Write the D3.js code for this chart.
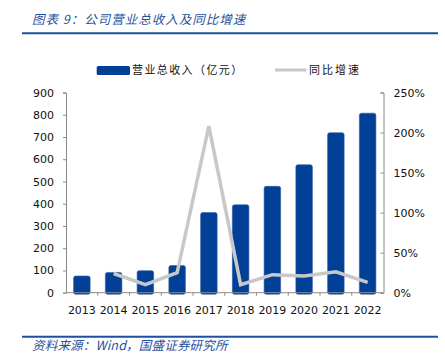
<!DOCTYPE html>
<html>
<head>
<meta charset="utf-8">
<script src="https://cdn.jsdelivr.net/npm/d3@7"></script>
<style>
  body { margin: 0; background: #fff; }
  svg { display: block; }
</style>
</head>
<body>
<div id="chart"></div>
<script>
var width = 445,
    height = 353

// data
var years = ['2013', '2014', '2015', '2016', '2017', '2018', '2019', '2020', '2021', '2022']
var revenue = [75, 91, 99, 122, 360, 395, 478, 575, 719, 807]   // 亿元
var growth = [null, 24, 10, 25, 208, 10, 22.5, 21, 26, 13]    // %
var leftTicks = [0, 100, 200, 300, 400, 500, 600, 700, 800, 900]
var rightTicks = [0, 50, 100, 150, 200, 250]

var blue = '#023f97',
    grey = '#c8c8c8',
    titleBlue = '#1f4f9d'

var cjk = '"Noto Sans CJK SC", sans-serif'
var num = '"DejaVu Sans", sans-serif'

var x0 = 66, x1 = 383.5, yTop = 92.5, yBase = 292.7

var svg = d3.select('#chart').append('svg')
    .attr('width', width)
    .attr('height', height)

// title + rule
svg.append('text')
    .attr('x', 32).attr('y', 24)
    .attr('font-family', cjk).attr('font-size', 12.5)
    .attr('font-style', 'italic').attr('letter-spacing', 1)
    .attr('fill', titleBlue)
    .text('图表 9：公司营业总收入及同比增速')
svg.append('line')
    .attr('x1', 22).attr('x2', 438).attr('y1', 33.3).attr('y2', 33.3)
    .attr('stroke', titleBlue).attr('stroke-width', 2)

// footer
svg.append('line')
    .attr('x1', 22).attr('x2', 438).attr('y1', 336.7).attr('y2', 336.7)
    .attr('stroke', titleBlue).attr('stroke-width', 2)
svg.append('text')
    .attr('x', 32).attr('y', 350)
    .attr('font-family', cjk).attr('font-size', 12.5)
    .attr('font-style', 'italic').attr('letter-spacing', 0.2)
    .attr('fill', titleBlue)
    .text('资料来源：Wind，国盛证券研究所')

// scales
var x = d3.scaleBand().domain(years).range([x0, x1]).paddingInner(0.48).paddingOuter(0.24)
var xb = d3.scaleBand().domain(years).range([x0, x1])
var yL = d3.scaleLinear().domain([0, 900]).range([yBase, yTop])
var yR = d3.scaleLinear().domain([0, 250]).range([yBase, yTop])

// axes
var axisL = d3.axisLeft(yL).tickValues(leftTicks).tickSize(3).tickPadding(9)
var axisR = d3.axisRight(yR).tickValues(rightTicks).tickSize(-3).tickPadding(10)
    .tickFormat(function(d){ return d + '%' })

var gL = svg.append('g').attr('transform', 'translate(' + x0 + ',0)').call(axisL)
var gR = svg.append('g').attr('transform', 'translate(' + x1 + ',0)').call(axisR)
;[gL, gR].forEach(function(g){
  g.select('.domain').attr('stroke', '#8a8a8a')
  g.selectAll('.tick line').attr('stroke', '#8a8a8a')
  g.selectAll('.tick text').attr('font-family', num).attr('font-size', 11).attr('fill', '#111')
})

// bars
svg.append('g').selectAll('rect')
  .data(revenue)
  .enter().append('rect')
    .attr('x', function(d, i){ return x(years[i]) })
    .attr('width', x.bandwidth())
    .attr('y', function(d){ return yL(d) })
    .attr('height', function(d){ return yBase - yL(d) + 1.5 })
    .attr('rx', 2)
    .attr('fill', blue)
    .attr('stroke', '#2a5aa8').attr('stroke-width', 0.6)

// bottom axis (band boundaries)
var gB = svg.append('g')
gB.append('line')
    .attr('x1', x0).attr('x2', x1).attr('y1', yBase).attr('y2', yBase)
    .attr('stroke', '#8a8a8a')
gB.selectAll('line.tk')
  .data(years.slice(1))
  .enter().append('line')
    .attr('class', 'tk')
    .attr('x1', function(d){ return xb(d) }).attr('x2', function(d){ return xb(d) })
    .attr('y1', yBase).attr('y2', yBase + 3)
    .attr('stroke', '#8a8a8a')
gB.selectAll('text')
  .data(years)
  .enter().append('text')
    .attr('x', function(d){ return xb(d) + xb.bandwidth() / 2 })
    .attr('y', 314)
    .attr('text-anchor', 'middle')
    .attr('font-family', num).attr('font-size', 11).attr('fill', '#111')
    .text(function(d){ return d })

// growth line
var line = d3.line()
    .defined(function(d){ return d != null })
    .x(function(d, i){ return xb(years[i]) + xb.bandwidth() / 2 })
    .y(function(d){ return yR(d) })
svg.append('path')
    .datum(growth)
    .attr('d', line)
    .attr('fill', 'none')
    .attr('stroke', grey)
    .attr('stroke-width', 3.5)
    .attr('stroke-linejoin', 'miter')

// legend
var lg = svg.append('g')
lg.append('rect')
    .attr('x', 96.7).attr('y', 66).attr('width', 33.3).attr('height', 9)
    .attr('rx', 1.5).attr('fill', blue)
lg.append('text')
    .attr('x', 132).attr('y', 74)
    .attr('font-family', cjk).attr('font-size', 11).attr('letter-spacing', 1.4)
    .attr('fill', '#111')
    .text('营业总收入（亿元）')
lg.append('line')
    .attr('x1', 275).attr('x2', 306.5).attr('y1', 70).attr('y2', 70)
    .attr('stroke', grey).attr('stroke-width', 3)
lg.append('text')
    .attr('x', 309).attr('y', 74)
    .attr('font-family', cjk).attr('font-size', 11).attr('letter-spacing', 2)
    .attr('fill', '#111')
    .text('同比增速')
</script>
</body>
</html>
